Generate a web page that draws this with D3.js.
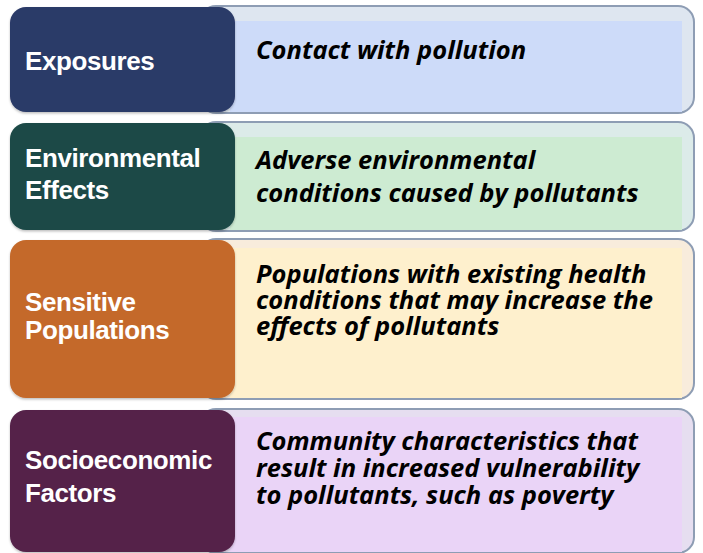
<!DOCTYPE html>
<html>
<head>
<meta charset="utf-8">
<script src="https://cdn.jsdelivr.net/npm/d3@7"></script>
<style>
  html, body { margin: 0; padding: 0; background: #fff; }
  svg { display: block; }
</style>
</head>
<body>
<div id="viz"></div>
<script>
// data
var categories = ["Exposures", "Environmental Effects", "Sensitive Populations", "Socioeconomic Factors"];

var labelLines = [
  ["Exposures"],
  ["Environmental", "Effects"],
  ["Sensitive", "Populations"],
  ["Socioeconomic", "Factors"]
];

var descLines = [
  ["Contact with pollution"],
  ["Adverse environmental", "conditions caused by pollutants"],
  ["Populations with existing health", "conditions that may increase the", "effects of pollutants"],
  ["Community characteristics that", "result in increased vulnerability", "to pollutants, such as poverty"]
];

// styles
var boxColors   = ["#2b3a68", "#1b4a47", "#c4692a", "#55234a"];
var panelTints  = ["#dee6f0", "#dcebe9", "#f8ecdc", "#e6def0"];
var panelFills  = ["#cddbf9", "#cdebd2", "#fef0cd", "#ead4f7"];

// layout (pixels)
var width = 703, height = 553;
var rowLayout = [
  {top: 7,   bottom: 112, inner: 14, label: 70,  labelStep: 0,  desc: 59,  descStep: 0},
  {top: 123, bottom: 230, inner: 14, label: 167, labelStep: 32, desc: 169, descStep: 33},
  {top: 240, bottom: 398, inner: 8,  label: 311, labelStep: 28, desc: 283, descStep: 26},
  {top: 410, bottom: 552, inner: 7,  label: 469, labelStep: 33, desc: 450, descStep: 27}
];

var color = d3.scaleOrdinal().domain(categories).range(boxColors);
var tint  = d3.scaleOrdinal().domain(categories).range(panelTints);
var fill  = d3.scaleOrdinal().domain(categories).range(panelFills);

var rows = categories.map(function(c, i) {
  return {name: c, label: labelLines[i], desc: descLines[i], lay: rowLayout[i]};
});

var svg = d3.select('#viz').append('svg')
  .attr('width', width)
  .attr('height', height);

var defs = svg.append('defs');
defs.append('filter')
  .attr('id', 'shadow')
  .attr('x', '-10%').attr('y', '-10%')
  .attr('width', '120%').attr('height', '125%')
  .append('feDropShadow')
  .attr('dx', 0).attr('dy', 1.5)
  .attr('stdDeviation', 1.2)
  .attr('flood-color', '#000')
  .attr('flood-opacity', 0.25);

var row = svg.selectAll('g.row')
  .data(rows)
  .join('g')
  .attr('class', 'row');

// outer panel
row.append('rect')
  .attr('x', 200)
  .attr('y', d => d.lay.top - 1)
  .attr('width', 494)
  .attr('height', d => d.lay.bottom - d.lay.top + 2)
  .attr('rx', 16)
  .attr('fill', d => tint(d.name))
  .attr('stroke', '#8e9db4')
  .attr('stroke-width', 2);

// inner fill
row.append('rect')
  .attr('x', 230)
  .attr('y', d => d.lay.top + d.lay.inner)
  .attr('width', 452)
  .attr('height', d => d.lay.bottom - d.lay.top - d.lay.inner)
  .attr('fill', d => fill(d.name));

// coloured label box
row.append('rect')
  .attr('x', 10)
  .attr('y', d => d.lay.top)
  .attr('width', 225)
  .attr('height', d => d.lay.bottom - d.lay.top)
  .attr('rx', 16)
  .attr('fill', d => color(d.name))
  .attr('filter', 'url(#shadow)');

// label text
row.append('text')
  .attr('fill', '#fff')
  .style('font-family', '"Liberation Sans", Arial, sans-serif')
  .style('font-weight', 'bold')
  .style('font-size', '26px')
  .style('letter-spacing', '-0.4px')
  .selectAll('tspan')
  .data(d => d.label.map((t, j) => ({t: t, y: d.lay.label + j * d.lay.labelStep})))
  .join('tspan')
  .attr('x', 25)
  .attr('y', d => d.y)
  .text(d => d.t);

// description text
row.append('text')
  .attr('fill', '#000')
  .style('font-family', '"Open Sans", sans-serif')
  .style('font-weight', 'bold')
  .style('font-style', 'italic')
  .style('font-size', '25.5px')
  .selectAll('tspan')
  .data(d => d.desc.map((t, j) => ({t: t, y: d.lay.desc + j * d.lay.descStep})))
  .join('tspan')
  .attr('x', 256)
  .attr('y', d => d.y)
  .text(d => d.t);
</script>
</body>
</html>
